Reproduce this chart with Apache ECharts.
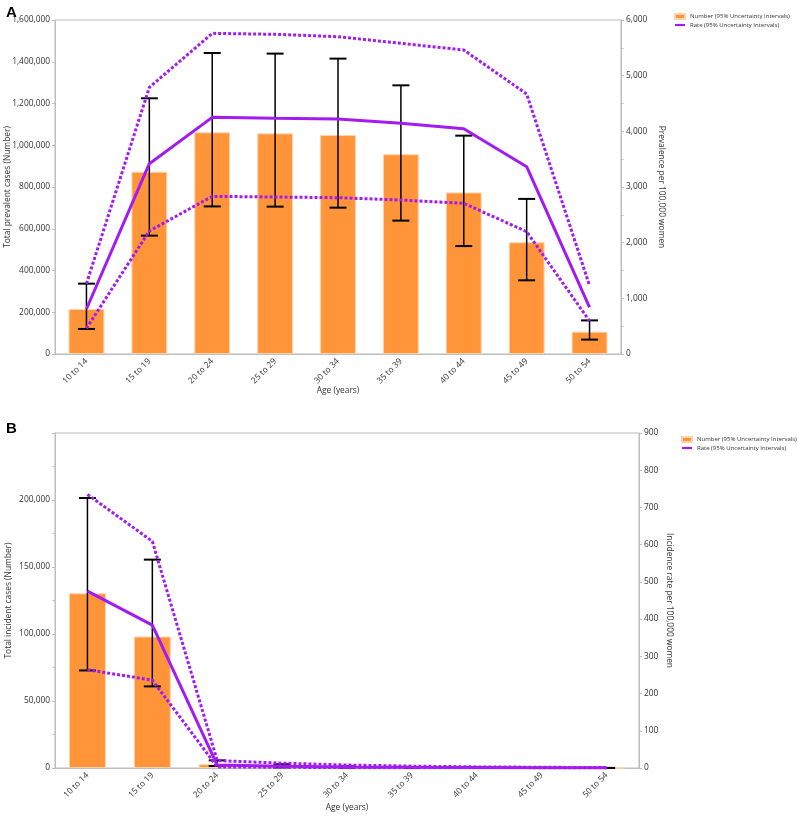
<!DOCTYPE html>
<html>
<head>
<meta charset="utf-8">
<script src="https://cdn.jsdelivr.net/npm/echarts@6/dist/echarts.min.js"></script>
<style>html,body{margin:0;padding:0;background:#fff}#c{width:797px;height:819px}</style>
</head>
<body>
<div id="c"></div>
<script>
const categories = ['10 to 14','15 to 19','20 to 24','25 to 29','30 to 34','35 to 39','40 to 44','45 to 49','50 to 54'];

// Panel A: prevalence
const prevNumber     = [216000, 873000, 1062000, 1057000, 1049000, 957000, 774000, 535000, 107000];
const prevNumberLow  = [120000, 567000, 707000, 706000, 701000, 639000, 517000, 353000, 69000];
const prevNumberHigh = [337000, 1225000, 1442000, 1439000, 1415000, 1287000, 1046000, 743000, 161000];
const prevRate       = [808, 3419, 4251, 4234, 4222, 4144, 4048, 3365, 838];
const prevRateLow    = [461, 2210, 2832, 2820, 2808, 2766, 2707, 2198, 593];
const prevRateHigh   = [1263, 4790, 5760, 5743, 5700, 5581, 5461, 4671, 1228];

// Panel B: incidence
const incNumber      = [130400, 98100, 2800, 1200, 600, 300, 150, 80, 40];
const incNumberLow   = [72800, 60900, 1500, 500, 250, 120, 60, 30, 15];
const incNumberHigh  = [201500, 155500, 5700, 2800, 1300, 650, 320, 170, 90];
const incRate        = [475, 384, 8, 5, 3, 2, 1.5, 1, 0.5];
const incRateLow     = [264, 236, 3, 2, 1, 0.7, 0.5, 0.3, 0.2];
const incRateHigh    = [735, 609, 20, 13, 8, 5, 3, 2, 1];

const FONT = 'Open Sans';
const FS = 8.4;
const TXT = '#333';
const AX = '#bdbdbd';
const ORANGE = '#ff9538';
const PURPLE = '#a21cf2';
const NUM_NAME = 'Number (95% Uncertainty Intervals)';
const RATE_NAME = 'Rate (95% Uncertainty Intervals)';

const fmt = v => v.toLocaleString('en-US');

function errData(low, high) {
  return categories.map((c, i) => [i, low[i], high[i]]);
}
function errRender(params, api) {
  const x = api.value(0);
  const top = api.coord([x, api.value(2)]);
  const bot = api.coord([x, api.value(1)]);
  const hw = 8.5;
  const st = {stroke: '#000', lineWidth: 1.5};
  return {type: 'group', children: [
    {type: 'line', shape: {x1: top[0], y1: top[1], x2: bot[0], y2: bot[1]}, style: st},
    {type: 'line', shape: {x1: top[0]-hw, y1: top[1], x2: top[0]+hw, y2: top[1]}, style: {stroke:'#000', lineWidth: 2}},
    {type: 'line', shape: {x1: bot[0]-hw, y1: bot[1], x2: bot[0]+hw, y2: bot[1]}, style: {stroke:'#000', lineWidth: 2}}
  ]};
}

function xAxis(gi) {
  return {
    type: 'category', gridIndex: gi, data: categories,
    name: 'Age (years)', nameLocation: 'middle', nameGap: gi === 0 ? 33 : 36, nameMoveOverlap: false,
    nameTextStyle: {fontFamily: FONT, fontSize: FS, color: TXT},
    axisLine: {lineStyle: {color: AX}},
    axisTick: {show: false},
    axisLabel: {rotate: 45, fontFamily: FONT, fontSize: FS, color: TXT, margin: 6}
  };
}
function yAxis(gi, pos, max, interval, name, gap, minor) {
  return {
    type: 'value', gridIndex: gi, position: pos, min: 0, max: max, interval: interval,
    name: name, nameLocation: 'middle', nameGap: gap, nameRotate: pos === 'left' ? 90 : -90, nameMoveOverlap: false,
    nameTextStyle: {fontFamily: FONT, fontSize: FS, color: TXT},
    axisLine: {show: true, lineStyle: {color: AX}},
    axisTick: {show: true, length: 3, lineStyle: {color: AX}},
    minorTick: {show: !!minor, splitNumber: 2, length: 2.5, lineStyle: {color: AX}},
    splitLine: {show: false},
    axisLabel: {fontFamily: FONT, fontSize: FS, color: TXT, margin: 5,
      formatter: v => (v === max && gi === 1 && pos === 'left') ? '' : fmt(v)}
  };
}

const legendData = [
  {name: NUM_NAME, icon: 'rect'},
  {name: RATE_NAME, icon: 'path://M0,0 L10,0 L10,2.2 L0,2.2 Z'}
];

const option = {
  animation: false,
  backgroundColor: '#fff',
  title: [
    {text: 'A', left: 1, top: 0, textStyle: {fontFamily: 'Liberation Sans', fontWeight: 'bold', fontSize: 15, color: '#000'}},
    {text: 'B', left: 1, top: 416, textStyle: {fontFamily: 'Liberation Sans', fontWeight: 'bold', fontSize: 15, color: '#000'}}
  ],
  legend: [
    {left: 669, top: 8, orient: 'vertical', itemWidth: 10, itemHeight: 5, itemGap: 2, symbolKeepAspect: true,
     textStyle: {fontFamily: FONT, fontSize: 6, color: TXT}, data: legendData},
    {left: 676, top: 431, orient: 'vertical', itemWidth: 10, itemHeight: 5, itemGap: 2, symbolKeepAspect: true,
     textStyle: {fontFamily: FONT, fontSize: 6, color: TXT}, data: legendData}
  ],
  grid: [
    {left: 55, top: 20, width: 566, height: 334, show: true, borderColor: AX, borderWidth: 1, outerBoundsMode: 'none', containLabel: false},
    {left: 55, top: 433, width: 584, height: 335, show: true, borderColor: AX, borderWidth: 1, outerBoundsMode: 'none', containLabel: false}
  ],
  xAxis: [xAxis(0), xAxis(1)],
  yAxis: [
    yAxis(0, 'left', 1600000, 200000, 'Total prevalent cases (Number)', 43, false),
    yAxis(0, 'right', 6000, 1000, 'Prevalence per 100,000 women', 36, true),
    yAxis(1, 'left', 250000, 50000, 'Total incident cases (Number)', 42, true),
    yAxis(1, 'right', 900, 100, 'Incidence rate per 100,000 women', 26, false)
  ],
  series: [
    {name: NUM_NAME, type: 'bar', xAxisIndex: 0, yAxisIndex: 0, data: prevNumber, barWidth: '57%',
     itemStyle: {color: ORANGE, borderColor: '#ffd3ae', borderWidth: 1}, z: 2},
    {name: 'errA', type: 'custom', xAxisIndex: 0, yAxisIndex: 0, data: errData(prevNumberLow, prevNumberHigh),
     renderItem: errRender, z: 3, encode: {x: 0, y: [1, 2]}},
    {name: 'rateLowA', type: 'line', xAxisIndex: 0, yAxisIndex: 1, data: prevRateLow, symbol: 'none',
     lineStyle: {color: PURPLE, width: 3, type: [3, 2]}, z: 4},
    {name: 'rateHighA', type: 'line', xAxisIndex: 0, yAxisIndex: 1, data: prevRateHigh, symbol: 'none',
     lineStyle: {color: PURPLE, width: 3, type: [3, 2]}, z: 4},
    {name: RATE_NAME, type: 'line', xAxisIndex: 0, yAxisIndex: 1, data: prevRate, symbol: 'none',
     itemStyle: {color: PURPLE}, lineStyle: {color: PURPLE, width: 3}, z: 5},

    {name: NUM_NAME, type: 'bar', xAxisIndex: 1, yAxisIndex: 2, data: incNumber, barWidth: '57%',
     itemStyle: {color: ORANGE, borderColor: '#ffd3ae', borderWidth: 1}, z: 2},
    {name: 'errB', type: 'custom', xAxisIndex: 1, yAxisIndex: 2, data: errData(incNumberLow, incNumberHigh),
     renderItem: errRender, z: 3, encode: {x: 0, y: [1, 2]}},
    {name: 'rateLowB', type: 'line', xAxisIndex: 1, yAxisIndex: 3, data: incRateLow, symbol: 'none',
     lineStyle: {color: PURPLE, width: 3, type: [3, 2]}, z: 4},
    {name: 'rateHighB', type: 'line', xAxisIndex: 1, yAxisIndex: 3, data: incRateHigh, symbol: 'none',
     lineStyle: {color: PURPLE, width: 3, type: [3, 2]}, z: 4},
    {name: RATE_NAME, type: 'line', xAxisIndex: 1, yAxisIndex: 3, data: incRate, symbol: 'none',
     itemStyle: {color: PURPLE}, lineStyle: {color: PURPLE, width: 3}, z: 5}
  ]
};

const chart = echarts.init(document.getElementById('c'), null, {renderer: 'canvas'});
chart.setOption(option);
</script>
</body>
</html>
